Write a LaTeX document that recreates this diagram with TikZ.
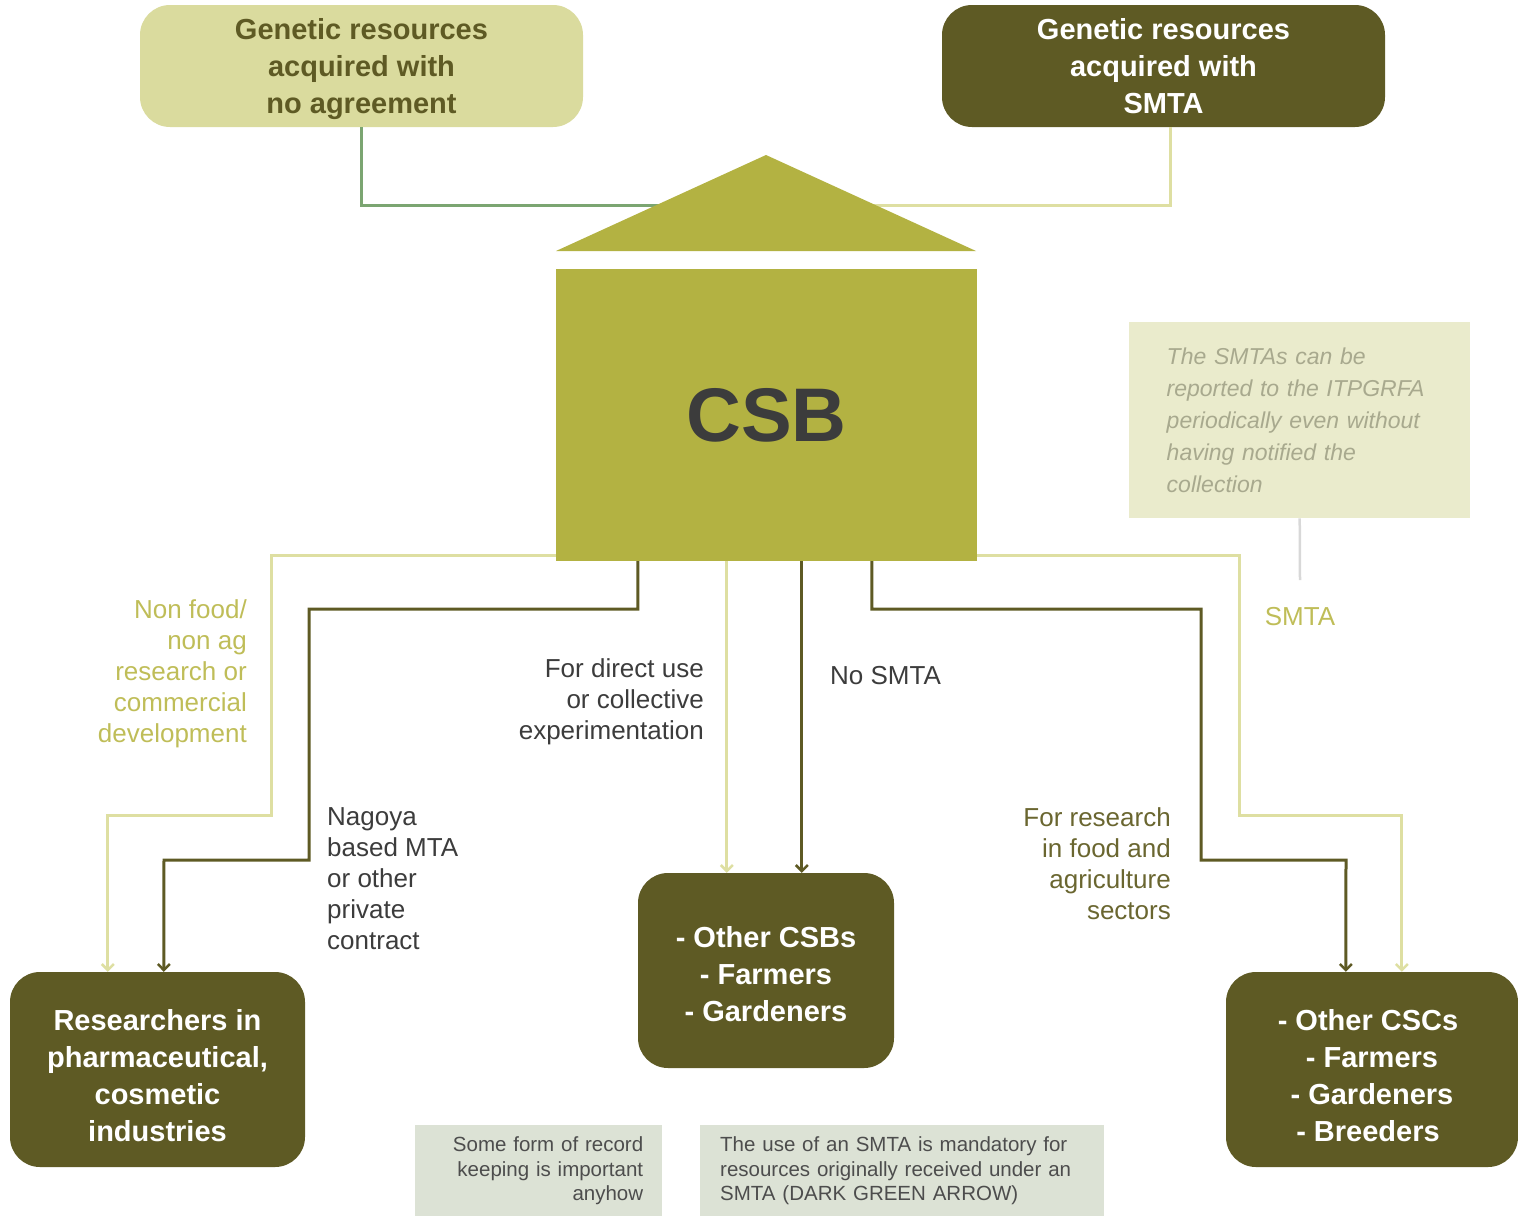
\documentclass[tikz,border=0pt]{standalone}
\usepackage{fontspec}
\setmainfont{Liberation Sans}
\usetikzlibrary{arrows.meta,calc}
\definecolor{darkolive}{HTML}{5E5A24}
\definecolor{lightbox}{HTML}{DADB9E}
\definecolor{roofc}{HTML}{B3B242}
\definecolor{labely}{HTML}{BFBD58}
\definecolor{lightline}{HTML}{DEDFA2}
\definecolor{greenline}{HTML}{7BA571}
\definecolor{notebg}{HTML}{EAEBCC}
\definecolor{notetxt}{HTML}{A8A98E}
\definecolor{graybg}{HTML}{DCE2D5}
\definecolor{graytxt}{HTML}{4D4D4D}
\definecolor{greyline}{HTML}{D8D8D8}
\definecolor{csbtxt}{HTML}{3C3C3C}
\definecolor{researchtxt}{HTML}{6A6630}
\tikzset{
  topbox/.style={rounded corners=30pt, minimum width=443pt, minimum height=122pt, inner sep=0pt, align=center,
    text depth=-2pt, font=\fontsize{29}{37}\selectfont\bfseries},
  endbox/.style={rounded corners=30pt, fill=darkolive, text=white, inner sep=0pt, align=center,
    font=\fontsize{29}{37}\selectfont\bfseries},
  lbl/.style={inner sep=0pt, font=\fontsize{26}{31}\selectfont},
  lightconn/.style={draw=lightline, line width=3pt},
  darkconn/.style={draw=darkolive, line width=3pt},
  tip/.style={-{Straight Barb[length=6pt,width=12pt,line width=2.5pt]}},
  graynote/.style={fill=graybg, text=graytxt, inner sep=0pt, font=\fontsize{20.5}{24.5}\selectfont}
}
\newcommand{\sh}{\hspace*{8pt}}
\begin{document}
\begin{tikzpicture}[x=1pt,y=-1pt]
\useasboundingbox (0,0) rectangle (1518,1218);
% top boxes
\node[topbox, fill=lightbox, text=darkolive] (tl) at (361.5,66) {Genetic resources\\acquired with\\no agreement};
\node[topbox, fill=darkolive, text=white] (tr) at (1163.5,66) {Genetic resources\\acquired with\\SMTA};
\coordinate (roofjoin) at (766,205);
\draw[draw=greenline, line width=3pt] (tl.south) |- (roofjoin);
\draw[lightconn] ($(tr.south)+(6.5,0)$) |- (roofjoin);
% roof
\fill[roofc] (766,155) -- (976,251) -- (556,251) -- cycle;
% CSB body
\node[fill=roofc, minimum width=421pt, minimum height=292pt, inner sep=0pt, text=csbtxt,
  font=\fontsize{76}{80}\selectfont\bfseries] (csb) at (766.5,415) {CSB};
% destination boxes
\node[endbox, minimum width=295pt, minimum height=195pt] (res) at (157.5,1069.5)
  {\rule{0pt}{33pt}Researchers in\\pharmaceutical,\\cosmetic\\industries};
\node[endbox, minimum width=256pt, minimum height=195pt] (mid) at (766,970.5)
  {\rule{0pt}{27.5pt}- Other CSBs\\- Farmers\\- Gardeners};
\node[endbox, minimum width=292pt, minimum height=195pt] (rgt) at (1372,1069.5)
  {\rule{0pt}{33pt}- Other CSCs\sh\\- Farmers\sh\\- Gardeners\sh\\- Breeders\sh};
% connectors left
\draw[lightconn, tip] ($(csb.south west)+(0,-6)$) -| (271,815) -| ($(res.north west)+(98,0)$);
\draw[darkconn, tip] ($(csb.south west)+(82,0)$) |- (309,609) |- (164,860) -- ($(res.north west)+(154,0)$);
% connectors middle
\draw[lightconn, tip] ($(csb.south west)+(171,0)$) -- ($(mid.north west)+(89,0)$);
\draw[darkconn, tip] ($(csb.south west)+(246,0)$) -- ($(mid.north west)+(164,0)$);
% connectors right
\draw[darkconn, tip] ($(csb.south west)+(316,0)$) |- (1201,609) |- (1346,860) -- ($(rgt.north west)+(120,0)$);
\draw[lightconn, tip] ($(csb.south east)+(0,-6)$) -| (1239,815) -| ($(rgt.north west)+(176,0)$);
% note
\node[fill=notebg, text=notetxt, minimum width=341pt, minimum height=196pt, inner sep=0pt,
  text width=266pt, align=left, font=\fontsize{23}{32}\selectfont\itshape, anchor=north west] (note) at (1129,322)
  {The SMTAs can be\\reported to the ITPGRFA\\periodically even without\\having notified the\\collection};
\coordinate (smtaline) at (1300,580);
\draw[draw=greyline, line width=2.5pt] (note.south) -- (smtaline);
% labels
\node[lbl, text=labely, anchor=north] (smta) at (1300,607) {SMTA};
\node[lbl, text=labely, align=right, anchor=north east] (nonfood) at (247,599) {Non food/\\non ag\\research or\\commercial\\development};
\node[lbl, text=csbtxt, align=right, anchor=north east] (direct) at (704,658) {For direct use\\or collective\\experimentation};
\node[lbl, text=csbtxt, anchor=north west] (nosmta) at (830,666) {No SMTA};
\node[lbl, text=csbtxt, align=left, anchor=north west] (nagoya) at (327,807) {Nagoya\\based MTA\\or other\\private\\contract};
\node[lbl, text=researchtxt, align=right, anchor=north east] (forres) at (1171,807) {For research\\in food and\\agriculture\\sectors};
% bottom notes
\node[graynote, minimum width=247pt, minimum height=91pt, text width=209pt, align=right, anchor=north west] (rec) at (415,1125)
  {Some form of record\\keeping is important\\anyhow};
\node[graynote, minimum width=404pt, minimum height=91pt, text width=364pt, align=left, anchor=north west] (mand) at (700,1125)
  {The use of an SMTA is mandatory for\\resources originally received under an\\SMTA (DARK GREEN ARROW)};
\end{tikzpicture}
\end{document}
